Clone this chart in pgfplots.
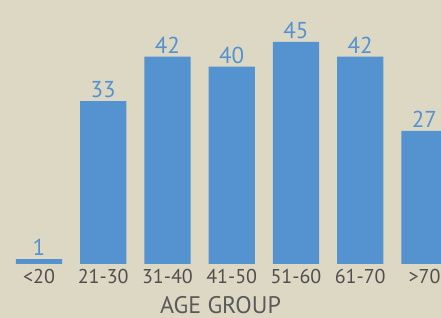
\documentclass[border=0pt]{standalone}
\usepackage{pgfplots}
\pgfplotsset{compat=1.18}
\usepackage{fontspec}
\setmainfont{PT Sans}
\definecolor{bg}{HTML}{DDD8C3}
\definecolor{bar}{HTML}{5592D0}
\definecolor{tick}{HTML}{4F4F4F}
\definecolor{lab}{HTML}{5A5A5A}
\begin{document}
\begin{tikzpicture}
\useasboundingbox (0pt,0pt) rectangle (441pt,318pt);
\clip (0pt,0pt) rectangle (441pt,318pt);
\fill[bg] (0pt,0pt) rectangle (441pt,318pt);
\begin{axis}[
  at={(0pt,54pt)}, anchor=south west,
  scale only axis, width=441pt, height=264pt,
  xmin=-0.607, xmax=6.257, ymin=0, ymax=53.5,
  axis line style={draw=none},
  ytick=\empty,
  xtick={0,1,2,3,4,5,6},
  xticklabels={<20,21-30,31-40,41-50,51-60,61-70,>70},
  major tick length=0pt,
  xticklabel style={font=\fontsize{20}{22}\selectfont, text=tick, inner sep=0pt, yshift=-5pt},
  xlabel={AGE GROUP},
  xlabel style={at={(axis description cs:0.5,0)}, anchor=base, yshift=-49pt, font=\fontsize{24}{26}\selectfont, text=lab, inner sep=0pt, text depth=0pt},
  /pgf/number format/assume math mode=true,
  ybar, bar width=0.716,
  nodes near coords,
  every node near coord/.append style={font=\fontsize{23}{25}\selectfont, text=bar, inner sep=3pt},
  clip=false,
]
\addplot[fill=bar, draw=none] coordinates {(0,1) (1,33) (2,42) (3,40) (4,45) (5,42) (6,27)};
\end{axis}
\end{tikzpicture}
\end{document}
